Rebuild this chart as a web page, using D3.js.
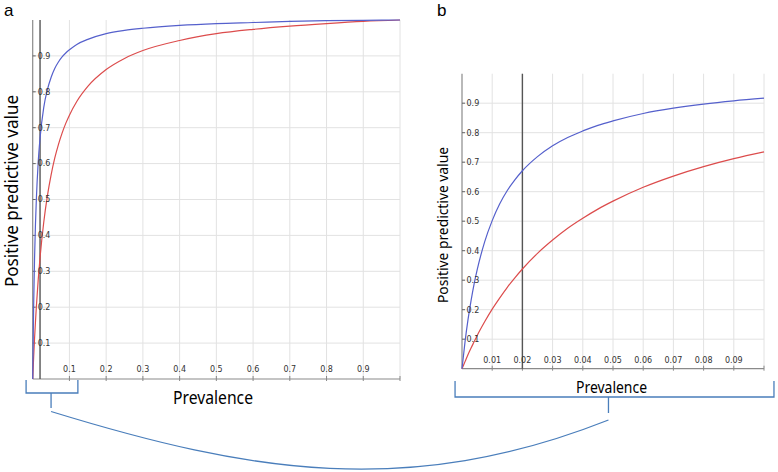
<!DOCTYPE html>
<html>
<head>
<meta charset="utf-8">
<script src="https://cdn.jsdelivr.net/npm/d3@7/dist/d3.min.js"></script>
<style>
  html, body { margin: 0; padding: 0; background: #fff; }
  svg { display: block; }
</style>
</head>
<body>
<svg id="chart" width="778" height="472"></svg>
<script>
// ---------- DATA ----------
// Panel a: prevalence 0..1
const prevA = [0, 0.0025, 0.005, 0.0075, 0.01, 0.015, 0.02, 0.03, 0.04, 0.05, 0.06, 0.07, 0.08, 0.09, 0.1,
               0.12, 0.15, 0.2, 0.25, 0.3, 0.4, 0.5, 0.6, 0.7, 0.8, 0.9, 1.0];
const blueA = [0, 0.200, 0.334, 0.430, 0.502, 0.604, 0.671, 0.756, 0.806, 0.840, 0.865, 0.883, 0.897, 0.908, 0.917,
               0.932, 0.946, 0.962, 0.971, 0.977, 0.985, 0.990, 0.993, 0.996, 0.998, 0.999, 1.0];
const redA  = [0, 0.059, 0.112, 0.159, 0.202, 0.276, 0.338, 0.436, 0.510, 0.568, 0.615, 0.653, 0.685, 0.712, 0.735,
               0.773, 0.815, 0.862, 0.893, 0.915, 0.943, 0.962, 0.974, 0.983, 0.990, 0.996, 1.0];
// Panel b: prevalence 0..0.1 (zoom)
const prevB = [0, 0.001, 0.002, 0.003, 0.004, 0.005, 0.0075, 0.01, 0.0125, 0.015, 0.0175, 0.02, 0.025, 0.03,
               0.035, 0.04, 0.045, 0.05, 0.06, 0.07, 0.08, 0.09, 0.1];
const blueB = [0, 0.091, 0.167, 0.231, 0.287, 0.334, 0.430, 0.502, 0.559, 0.604, 0.640, 0.671, 0.719, 0.756,
               0.784, 0.806, 0.825, 0.840, 0.865, 0.883, 0.897, 0.908, 0.917];
const redB  = [0, 0.024, 0.048, 0.070, 0.091, 0.112, 0.159, 0.202, 0.240, 0.276, 0.308, 0.338, 0.391, 0.436,
               0.476, 0.510, 0.541, 0.568, 0.615, 0.653, 0.685, 0.712, 0.735];

const xTicksA = [0.1, 0.2, 0.3, 0.4, 0.5, 0.6, 0.7, 0.8, 0.9];
const xTickLabelsA = ["0.1", "0.2", "0.3", "0.4", "0.5", "0.6", "0.7", "0.8", "0.9"];
const xTicksB = [0.01, 0.02, 0.03, 0.04, 0.05, 0.06, 0.07, 0.08, 0.09];
const xTickLabelsB = ["0.01", "0.02", "0.03", "0.04", "0.05", "0.06", "0.07", "0.08", "0.09"];
const yTicks = [0.1, 0.2, 0.3, 0.4, 0.5, 0.6, 0.7, 0.8, 0.9];
const yTickLabels = ["0.1", "0.2", "0.3", "0.4", "0.5", "0.6", "0.7", "0.8", "0.9"];
const markerPrev = 0.02;

// ---------- DRAWING ----------
const svg = d3.select("#chart");
const BLUE = "#5560cc", RED = "#dc4c4c", GRID = "#e2e2e2", AXIS = "#8a8a8a", MARK = "#555555", BRACKET = "#4a7ebb";
const titleFont = "'Noto Sans', 'Open Sans', sans-serif";
const tickFont = "'DejaVu Sans', sans-serif";

svg.append("rect").attr("width", 778).attr("height", 472).attr("fill", "#fff");

function drawPanel(opt) {
  const { x, y, xTicks, xLabels, prev, blue, red, labelDx, xLabelDy } = opt;
  const g = svg.append("g");
  const [x0, x1] = x.range();
  const [y0, y1] = y.range();
  const xMax = x.domain()[1];

  // gridlines
  g.selectAll(".vg").data(xTicks.concat([xMax])).join("line")
    .attr("x1", d => x(d)).attr("x2", d => x(d)).attr("y1", y0).attr("y2", y1)
    .attr("stroke", GRID).attr("stroke-width", 1);
  g.selectAll(".hg").data(yTicks).join("line")
    .attr("x1", x0).attr("x2", x1).attr("y1", d => y(d)).attr("y2", d => y(d))
    .attr("stroke", GRID).attr("stroke-width", 1);

  // axes
  g.append("line").attr("x1", x0).attr("x2", x0).attr("y1", y0).attr("y2", y1)
    .attr("stroke", AXIS).attr("stroke-width", 1.2);
  g.append("line").attr("x1", x0).attr("x2", x1).attr("y1", y0).attr("y2", y0)
    .attr("stroke", AXIS).attr("stroke-width", 1.2);
  g.selectAll(".xt").data(xTicks.concat([xMax])).join("line")
    .attr("x1", d => x(d)).attr("x2", d => x(d)).attr("y1", y0 - 3).attr("y2", y0 + 2)
    .attr("stroke", AXIS).attr("stroke-width", 1);
  g.selectAll(".yt").data(yTicks).join("line")
    .attr("x1", x0).attr("x2", x0 + 3).attr("y1", d => y(d)).attr("y2", d => y(d))
    .attr("stroke", "#666").attr("stroke-width", 1);

  // marker line at prevalence 0.02
  g.append("line").attr("x1", x(markerPrev)).attr("x2", x(markerPrev)).attr("y1", y0).attr("y2", y1)
    .attr("stroke", MARK).attr("stroke-width", 1.4);

  // curves
  const line = d3.line().x(d => x(d[0])).y(d => y(d[1])).curve(d3.curveMonotoneX);
  g.append("path").datum(prev.map((p, i) => [p, red[i]])).attr("d", line)
    .attr("fill", "none").attr("stroke", RED).attr("stroke-width", 1.2);
  g.append("path").datum(prev.map((p, i) => [p, blue[i]])).attr("d", line)
    .attr("fill", "none").attr("stroke", BLUE).attr("stroke-width", 1.2);

  // tick labels
  g.selectAll(".xl").data(xTicks).join("text")
    .attr("x", d => x(d)).attr("y", y0 + xLabelDy).attr("text-anchor", "middle")
    .attr("font-family", tickFont).attr("font-size", 8).attr("fill", "#333")
    .text((d, i) => xLabels[i]);
  g.selectAll(".yl").data(yTicks).join("text")
    .attr("x", x0 + labelDx).attr("y", d => y(d)).attr("dy", "0.35em")
    .attr("font-family", tickFont).attr("font-size", 8).attr("fill", "#333")
    .text((d, i) => yTickLabels[i]);
  return g;
}

// Panel a
const xa = d3.scaleLinear().domain([0, 1]).range([32.7, 400]);
const ya = d3.scaleLinear().domain([0, 1]).range([379, 20]);
drawPanel({ x: xa, y: ya, xTicks: xTicksA, xLabels: xTickLabelsA, prev: prevA, blue: blueA, red: redA,
            labelDx: 5, xLabelDy: -7 });

// Panel b
const xb = d3.scaleLinear().domain([0, 0.1]).range([462, 764]);
const yb = d3.scaleLinear().domain([0, 1]).range([368.7, 73.7]);
drawPanel({ x: xb, y: yb, xTicks: xTicksB, xLabels: xTickLabelsB, prev: prevB, blue: blueB, red: redB,
            labelDx: 4.5, xLabelDy: -6 });

// Panel letters
const letterFont = "'Liberation Sans', Arial, sans-serif";
svg.append("text").attr("x", 4).attr("y", 16).attr("font-family", letterFont).attr("font-size", 17)
  .attr("fill", "#000").text("a");
svg.append("text").attr("x", 437).attr("y", 16).attr("font-family", letterFont).attr("font-size", 17)
  .attr("fill", "#000").text("b");

// Axis titles
function title(x, y, txt, size, len, rotate) {
  const t = svg.append("text")
    .attr("font-family", titleFont).attr("font-size", size).attr("fill", "#000")
    .attr("text-anchor", "middle")
    .attr("textLength", len).attr("lengthAdjust", "spacingAndGlyphs")
    .text(txt);
  if (rotate) t.attr("transform", `translate(${x},${y}) rotate(-90)`).attr("dy", "0.35em");
  else t.attr("x", x).attr("y", y);
  return t;
}
title(12, 191, "Positive predictive value", 18, 192, true);
title(213, 404, "Prevalence", 18, 80, false);
title(443, 225, "Positive predictive value", 15, 156, true);
title(611.5, 393, "Prevalence", 16.5, 71, false);

// Brackets and connector
const bA = { l: xa(-0.018), r: xa(0.123), y: 393, top: 380, stemX: xa(0.05), stemBottom: 408 };
const bB = { l: xb(-0.0023), r: xb(0.1033), y: 397, top: 381, stemX: xb(0.0485), stemBottom: 413 };
function bracket(b) {
  const p = d3.path();
  p.moveTo(b.l, b.top); p.lineTo(b.l, b.y); p.lineTo(b.r, b.y); p.lineTo(b.r, b.top);
  p.moveTo(b.stemX, b.y); p.lineTo(b.stemX, b.stemBottom);
  svg.append("path").attr("d", p.toString()).attr("fill", "none")
    .attr("stroke", BRACKET).attr("stroke-width", 1.3);
}
bracket(bA);
bracket(bB);
const conn = d3.path();
conn.moveTo(bA.stemX, bA.stemBottom + 3.5);
conn.bezierCurveTo(bA.stemX + 200, bA.stemBottom + 65, bB.stemX - 200, 499, bB.stemX, 420);
svg.append("path").attr("d", conn.toString()).attr("fill", "none")
  .attr("stroke", BRACKET).attr("stroke-width", 1.3);
</script>
</body>
</html>
